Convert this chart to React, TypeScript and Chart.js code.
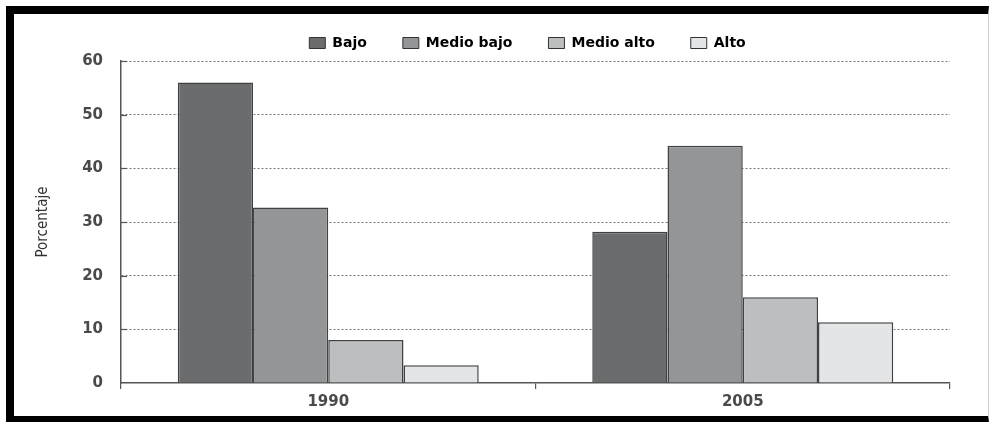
import React, { useEffect, useRef } from "react";
import { Chart, registerables } from "chart.js";

Chart.register(...registerables);

// Años comparados
const years = ["1990", "2005"];

// Porcentaje de hogares por nivel
const seriesNames = ["Bajo", "Medio bajo", "Medio alto", "Alto"];
const bajo = [56, 28.2];
const medioBajo = [32.7, 44.2];
const medioAlto = [8, 16];
const alto = [3.3, 11.3];

// Escala del eje vertical
const yMin = 0;
const yMax = 60;
const yStep = 10;

const fills = ["#6b6c6e", "#939597", "#bdbec0", "#e4e5e6"];
const edge = "#3f4042";

const legendGap = 36;
const legendItemHeight = 14;

// Short solid stubs where each dotted gridline meets the vertical axis
const gridStubs = {
  id: "gridStubs",
  beforeDatasetsDraw(chart: any) {
    const y = chart.scales.y;
    const { ctx, chartArea } = chart;
    ctx.save();
    ctx.strokeStyle = "#555";
    ctx.lineWidth = 1.2;
    for (const t of y.ticks) {
      if (t.value === yMin) continue;
      const py = Math.round(y.getPixelForValue(t.value)) + 0.5;
      ctx.beginPath();
      ctx.moveTo(chartArea.left, py);
      ctx.lineTo(chartArea.left + 6, py);
      ctx.stroke();
    }
    ctx.restore();
  },
};

// Centre the legend over the plot and lift it into the top margin
const legendPlacement = {
  id: "legendPlacement",
  afterLayout(chart: any) {
    const lg = chart.legend;
    if (!lg) return;
    const { chartArea } = chart;
    const dx = (chartArea.left + chartArea.right) / 2 - 8 - (lg.left + lg.right) / 2;
    lg.left += dx;
    lg.right += dx;
    const rowCentre = chartArea.top - 18;
    lg.top = rowCentre - legendGap - legendItemHeight / 2;
    lg.bottom = lg.top + 2 * legendGap + legendItemHeight;
  },
};

export default function App() {
  const canvasRef = useRef<HTMLCanvasElement | null>(null);

  useEffect(() => {
    const canvas = canvasRef.current;
    if (!canvas) return;
    const values = [bajo, medioBajo, medioAlto, alto];
    const chart = new Chart(canvas, {
      type: "bar",
      data: {
        labels: years,
        datasets: seriesNames.map((name, i) => ({
          label: name,
          data: values[i],
          backgroundColor: fills[i],
          borderColor: edge,
          borderWidth: 1.5,
          categoryPercentage: 0.726,
          barPercentage: 1,
        })),
      },
      options: {
        animation: false,
        responsive: false,
        maintainAspectRatio: false,
        layout: { padding: { top: 12, right: 39, bottom: 0, left: 0 } },
        plugins: {
          tooltip: { enabled: false },
          legend: {
            position: "top",
            align: "center",
            maxHeight: 35,
            labels: {
              boxWidth: 16,
              boxHeight: 11,
              padding: legendGap,
              color: "#555",
              font: { family: "'DejaVu Sans', sans-serif", size: legendItemHeight, weight: "bold" },
              generateLabels: (c: any) =>
                c.data.datasets.map((ds: any, i: number) => ({
                  text: ds.label,
                  fillStyle: fills[i],
                  strokeStyle: "#333",
                  lineWidth: 1,
                  hidden: false,
                  datasetIndex: i,
                })),
            },
          } as any,
        },
        scales: {
          x: {
            offset: true,
            afterFit: (s: any) => {
              s.height = 39;
            },
            border: { display: true, color: "#555", width: 1.5 },
            grid: {
              offset: true,
              drawOnChartArea: false,
              drawTicks: true,
              tickLength: 6,
              color: "#555",
              lineWidth: 1.2,
            },
            ticks: {
              padding: 4,
              color: "#4a4a4a",
              font: { family: "'DejaVu Sans', sans-serif", size: 15, weight: "bold" },
            },
          },
          y: {
            min: yMin,
            max: yMax,
            afterFit: (s: any) => {
              s.width = 107;
            },
            border: { display: true, color: "#555", width: 1.5, dash: [2, 2] },
            grid: {
              drawTicks: false,
              color: (ctx: any) => (ctx.tick && ctx.tick.value === yMin ? "rgba(0,0,0,0)" : "#7a7a7a"),
              lineWidth: 1,
            },
            ticks: {
              stepSize: yStep,
              padding: 18,
              color: "#4a4a4a",
              font: { family: "'DejaVu Sans', sans-serif", size: 15, weight: "bold" },
            },
            title: {
              display: true,
              text: "Porcentaje",
              color: "#333",
              padding: { top: 20, bottom: 0 },
              font: { family: "'DejaVu Sans Condensed', 'Liberation Sans Narrow', sans-serif", size: 15 },
            },
          },
        },
      },
      plugins: [gridStubs, legendPlacement],
    });
    return () => chart.destroy();
  }, []);

  return (
    <div style={{ position: "fixed", left: 0, top: 0, width: 992, height: 428, overflow: "hidden", background: "#fff" }}>
      <canvas
        ref={canvasRef}
        width={975}
        height={408}
        style={{ position: "absolute", left: 14, top: 14, width: 975, height: 408 }}
      />
      <div
        style={{
          position: "absolute",
          left: 6,
          top: 6,
          width: 983,
          height: 416,
          borderTop: "8px solid #000",
          borderLeft: "8px solid #000",
          borderBottom: "6px solid #000",
          borderRight: "1px solid #d0d0d0",
          boxSizing: "border-box",
          pointerEvents: "none",
        }}
      />
    </div>
  );
}
